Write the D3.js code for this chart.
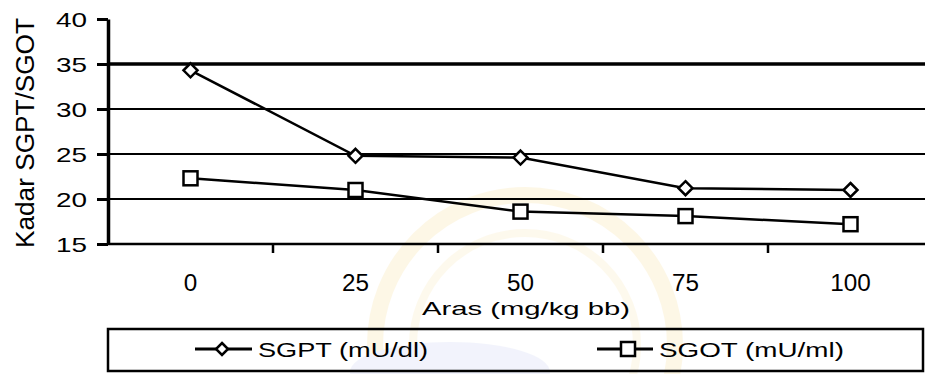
<!DOCTYPE html>
<html>
<head>
<meta charset="utf-8">
<script src="https://cdn.jsdelivr.net/npm/d3@7/dist/d3.min.js"></script>
<style>
  html, body { margin: 0; padding: 0; background: #fff; }
  svg { display: block; }
  text { font-family: "Liberation Sans", Arial, sans-serif; fill: #000; }
</style>
</head>
<body>
<svg id="chart" width="925" height="374"></svg>
<script>
// Dose levels (mg/kg bb) and enzyme levels
const doses = ["0", "25", "50", "75", "100"];
const sgpt = [34.3, 24.8, 24.6, 21.2, 21.0];
const sgot = [22.3, 21.0, 18.6, 18.1, 17.2];
const yTicks = [15, 20, 25, 30, 35, 40];
const gridValues = [20, 25, 30, 35];
const seriesNames = ["SGPT (mU/dl)", "SGOT (mU/ml)"];

const svg = d3.select("#chart");

// faint watermark in the background
const wm = svg.append("g").attr("opacity", 0.18);
wm.append("circle").attr("cx", 525).attr("cy", 345).attr("r", 150)
  .attr("fill", "none").attr("stroke", "#f6d57a").attr("stroke-width", 16);
wm.append("circle").attr("cx", 525).attr("cy", 345).attr("r", 112)
  .attr("fill", "none").attr("stroke", "#f9e2a0").attr("stroke-width", 8);
wm.append("ellipse").attr("cx", 450).attr("cy", 372).attr("rx", 100).attr("ry", 30)
  .attr("fill", "#b9c2f0");

const plotLeft = 108, plotRight = 933, plotTop = 19, plotBottom = 244;

const x = d3.scaleBand().domain(doses).range([plotLeft, plotRight]);
const y = d3.scaleLinear().domain([15, 40]).range([plotBottom, plotTop]);

// horizontal gridlines
svg.append("g").selectAll("line").data(gridValues).join("line")
  .attr("x1", plotLeft).attr("x2", 925)
  .attr("y1", d => y(d)).attr("y2", d => y(d))
  .attr("stroke", "#000")
  .attr("stroke-width", d => d === 35 ? 3.5 : 2);

// y axis
const yAxis = svg.append("g").attr("transform", `translate(${plotLeft},0)`)
  .call(d3.axisLeft(y).tickValues(yTicks).tickSize(11).tickSizeOuter(0).tickPadding(10));
yAxis.select(".domain").attr("stroke-width", 3.5);
yAxis.selectAll(".tick line").attr("stroke-width", 3);
yAxis.selectAll(".tick text")
  .attr("font-size", 21)
  .attr("x", -21)
  .attr("dy", "0.36em")
  .attr("textLength", 31)
  .attr("lengthAdjust", "spacingAndGlyphs");

// x axis with ticks between categories
const xAxis = svg.append("g").attr("transform", `translate(0,${plotBottom})`);
xAxis.append("line").attr("x1", plotLeft).attr("x2", 925)
  .attr("y1", 0).attr("y2", 0).attr("stroke", "#000").attr("stroke-width", 2.5);
xAxis.selectAll("line.tk").data(doses.slice(1)).join("line").attr("class", "tk")
  .attr("x1", d => x(d)).attr("x2", d => x(d))
  .attr("y1", 0).attr("y2", 9).attr("stroke", "#000").attr("stroke-width", 2.5);
xAxis.selectAll("text").data(doses).join("text")
  .attr("x", d => x(d) + x.bandwidth() / 2)
  .attr("y", 47)
  .attr("text-anchor", "middle")
  .attr("font-size", 23)
  .attr("textLength", d => d.length * 13.5)
  .attr("lengthAdjust", "spacingAndGlyphs")
  .text(d => d);

// axis titles
svg.append("text")
  .attr("x", 526).attr("y", 315)
  .attr("text-anchor", "middle")
  .attr("font-size", 18)
  .attr("textLength", 208)
  .attr("lengthAdjust", "spacingAndGlyphs")
  .text("Aras (mg/kg bb)");

svg.append("text")
  .attr("transform", "translate(34,133) rotate(-90)")
  .attr("text-anchor", "middle")
  .attr("font-size", 26)
  .attr("textLength", 230)
  .attr("lengthAdjust", "spacingAndGlyphs")
  .text("Kadar SGPT/SGOT");

// series lines
const line = d3.line()
  .x((d, i) => x(doses[i]) + x.bandwidth() / 2)
  .y(d => y(d));

svg.append("path").datum(sgpt).attr("d", line)
  .attr("fill", "none").attr("stroke", "#000").attr("stroke-width", 2.5);
svg.append("path").datum(sgot).attr("d", line)
  .attr("fill", "none").attr("stroke", "#000").attr("stroke-width", 2.5);

const diamond = (cx, cy, s) =>
  `M${cx},${cy - s}L${cx + s},${cy}L${cx},${cy + s}L${cx - s},${cy}Z`;

// markers
svg.append("g").selectAll("path").data(sgpt).join("path")
  .attr("d", (d, i) => diamond(x(doses[i]) + x.bandwidth() / 2, y(d), 7))
  .attr("fill", "#fff").attr("stroke", "#000").attr("stroke-width", 2.5);
svg.append("g").selectAll("rect").data(sgot).join("rect")
  .attr("x", (d, i) => x(doses[i]) + x.bandwidth() / 2 - 7)
  .attr("y", d => y(d) - 7)
  .attr("width", 14).attr("height", 14)
  .attr("fill", "#fff").attr("stroke", "#000").attr("stroke-width", 2.5);

// legend
const lg = svg.append("g");
lg.append("rect").attr("x", 108).attr("y", 329).attr("width", 815).attr("height", 42)
  .attr("fill", "none").attr("stroke", "#000").attr("stroke-width", 2.5);

const legendItems = [
  { name: seriesNames[0], x0: 195, x1: 252, mx: 222, tx: 258, tw: 170, shape: "diamond" },
  { name: seriesNames[1], x0: 597, x1: 653, mx: 628, tx: 659, tw: 185, shape: "square" }
];
const ly = 349;
legendItems.forEach(it => {
  lg.append("line").attr("x1", it.x0).attr("x2", it.x1).attr("y1", ly).attr("y2", ly)
    .attr("stroke", "#000").attr("stroke-width", 3);
  if (it.shape === "diamond") {
    lg.append("path").attr("d", diamond(it.mx, ly, 6))
      .attr("fill", "#fff").attr("stroke", "#000").attr("stroke-width", 2.5);
  } else {
    lg.append("rect").attr("x", it.mx - 7).attr("y", ly - 7).attr("width", 14).attr("height", 14)
      .attr("fill", "#fff").attr("stroke", "#000").attr("stroke-width", 2.5);
  }
  lg.append("text").attr("x", it.tx).attr("y", ly + 8)
    .attr("font-size", 21)
    .attr("textLength", it.tw)
    .attr("lengthAdjust", "spacingAndGlyphs")
    .text(it.name);
});
</script>
</body>
</html>
